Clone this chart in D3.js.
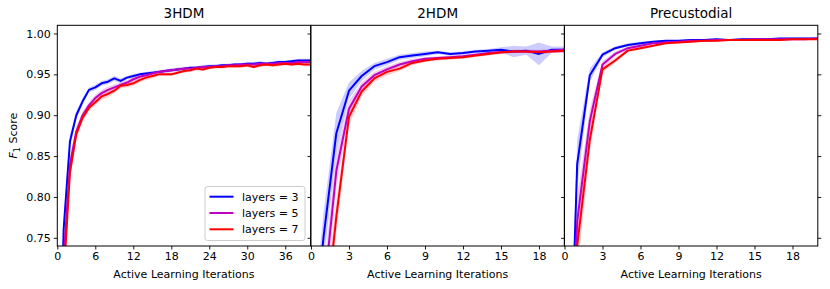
<!DOCTYPE html>
<html lang="en">
<head>
    <meta charset="UTF-8">
    <title>Active learning F1 score</title>
    <script src="https://d3js.org/d3.v7.min.js"></script>
    <style>
        body { margin: 0; background: #fff; }
        text { font-family: "DejaVu Sans", sans-serif; fill: #000; }
    </style>
</head>
<body>
    <div id="chart"></div>

    <script>
        // panel names and x ranges
        const panelNames = ['3HDM', '2HDM', 'Precustodial'];
        const panelXMax = [40, 20, 20];
        const panelXTicks = [[0, 6, 12, 18, 24, 30, 36], [0, 3, 6, 9, 12, 15, 18], [0, 3, 6, 9, 12, 15, 18]];
        const yTicks = [0.75, 0.80, 0.85, 0.90, 0.95, 1.00];
        const seriesLabels = ['layers = 3', 'layers = 5', 'layers = 7'];
        const seriesColors = ['#0000ff', '#bf00bf', '#ff0000'];

        // 3HDM, x = 0..40
        const hdm3Layers3 = [0.45, 0.76, 0.868, 0.90, 0.917, 0.931, 0.934, 0.939, 0.941, 0.945, 0.942, 0.946, 0.948, 0.950, 0.951, 0.952, 0.953, 0.954, 0.955, 0.956, 0.957, 0.958, 0.958, 0.959, 0.960, 0.960, 0.961, 0.961, 0.962, 0.962, 0.963, 0.963, 0.964, 0.963, 0.964, 0.965, 0.965, 0.966, 0.967, 0.967, 0.967];
        const hdm3Layers5 = [0.40, 0.725, 0.84, 0.88, 0.90, 0.912, 0.921, 0.927, 0.931, 0.934, 0.937, 0.940, 0.944, 0.947, 0.949, 0.951, 0.953, 0.954, 0.955, 0.956, 0.957, 0.957, 0.958, 0.959, 0.959, 0.960, 0.960, 0.961, 0.961, 0.962, 0.962, 0.962, 0.963, 0.963, 0.963, 0.964, 0.964, 0.964, 0.965, 0.965, 0.965];
        const hdm3Layers7 = [0.38, 0.70, 0.83, 0.877, 0.897, 0.909, 0.916, 0.923, 0.926, 0.930, 0.936, 0.937, 0.939, 0.943, 0.946, 0.948, 0.950, 0.950, 0.950, 0.952, 0.954, 0.955, 0.957, 0.956, 0.958, 0.959, 0.959, 0.960, 0.960, 0.960, 0.961, 0.959, 0.961, 0.962, 0.961, 0.962, 0.963, 0.962, 0.963, 0.962, 0.962];
        const hdm3Std3 = [0.02, 0.015, 0.008, 0.005, 0.004, 0.003, 0.003, 0.003, 0.003, 0.003, 0.003, 0.002, 0.002, 0.002, 0.002, 0.002, 0.002, 0.002, 0.002, 0.002, 0.002, 0.002, 0.002, 0.002, 0.002, 0.002, 0.002, 0.002, 0.002, 0.002, 0.002, 0.002, 0.002, 0.002, 0.002, 0.002, 0.002, 0.002, 0.002, 0.002, 0.002];
        const hdm3Std5 = [0.02, 0.015, 0.01, 0.006, 0.005, 0.004, 0.004, 0.004, 0.004, 0.004, 0.003, 0.003, 0.003, 0.003, 0.003, 0.002, 0.002, 0.002, 0.002, 0.002, 0.002, 0.002, 0.002, 0.002, 0.002, 0.002, 0.002, 0.002, 0.002, 0.002, 0.002, 0.002, 0.002, 0.002, 0.002, 0.002, 0.002, 0.002, 0.002, 0.002, 0.002];
        const hdm3Std7 = [0.02, 0.015, 0.01, 0.006, 0.005, 0.004, 0.004, 0.004, 0.004, 0.003, 0.003, 0.003, 0.003, 0.003, 0.003, 0.003, 0.002, 0.002, 0.002, 0.002, 0.002, 0.002, 0.002, 0.002, 0.002, 0.002, 0.002, 0.002, 0.002, 0.002, 0.002, 0.002, 0.002, 0.002, 0.002, 0.002, 0.002, 0.002, 0.002, 0.002, 0.002];

        // 2HDM, x = 0..20
        const hdm2Layers3 = [0.60, 0.752, 0.878, 0.930, 0.948, 0.960, 0.965, 0.971, 0.973, 0.975, 0.977, 0.975, 0.976, 0.978, 0.979, 0.980, 0.978, 0.979, 0.975, 0.980, 0.980];
        const hdm2Layers5 = [0.55, 0.68, 0.832, 0.908, 0.935, 0.949, 0.956, 0.962, 0.966, 0.969, 0.970, 0.971, 0.972, 0.974, 0.976, 0.977, 0.978, 0.978, 0.978, 0.979, 0.980];
        const hdm2Layers7 = [0.50, 0.63, 0.776, 0.898, 0.929, 0.945, 0.953, 0.957, 0.964, 0.967, 0.969, 0.970, 0.971, 0.973, 0.975, 0.977, 0.978, 0.978, 0.977, 0.978, 0.979];
        const hdm2Std3 = [0.03, 0.03, 0.025, 0.01, 0.006, 0.004, 0.004, 0.003, 0.003, 0.003, 0.002, 0.002, 0.002, 0.002, 0.002, 0.003, 0.007, 0.005, 0.014, 0.004, 0.004];
        const hdm2Std5 = [0.03, 0.03, 0.02, 0.01, 0.005, 0.004, 0.004, 0.003, 0.003, 0.002, 0.002, 0.002, 0.002, 0.002, 0.002, 0.002, 0.002, 0.002, 0.002, 0.002, 0.002];
        const hdm2Std7 = [0.03, 0.03, 0.02, 0.01, 0.006, 0.004, 0.004, 0.003, 0.003, 0.002, 0.002, 0.002, 0.002, 0.002, 0.002, 0.002, 0.002, 0.002, 0.002, 0.002, 0.002];

        // Precustodial, x = 0..20
        const precLayers3 = [0.34, 0.84, 0.949, 0.974, 0.982, 0.986, 0.988, 0.990, 0.991, 0.991, 0.992, 0.992, 0.993, 0.992, 0.993, 0.993, 0.993, 0.994, 0.994, 0.994, 0.994];
        const precLayers5 = [0.35, 0.77, 0.893, 0.962, 0.975, 0.982, 0.985, 0.988, 0.989, 0.990, 0.991, 0.991, 0.992, 0.992, 0.992, 0.993, 0.993, 0.993, 0.993, 0.993, 0.994];
        const precLayers7 = [0.35, 0.74, 0.87, 0.956, 0.967, 0.979, 0.982, 0.985, 0.988, 0.989, 0.990, 0.991, 0.991, 0.992, 0.992, 0.992, 0.992, 0.992, 0.993, 0.993, 0.993];
        const precStd3 = [0.05, 0.03, 0.008, 0.003, 0.002, 0.002, 0.002, 0.001, 0.001, 0.001, 0.001, 0.001, 0.001, 0.001, 0.001, 0.001, 0.001, 0.001, 0.001, 0.001, 0.001];
        const precStd5 = [0.05, 0.03, 0.015, 0.004, 0.003, 0.002, 0.002, 0.001, 0.001, 0.001, 0.001, 0.001, 0.001, 0.001, 0.001, 0.001, 0.001, 0.001, 0.001, 0.001, 0.001];
        const precStd7 = [0.05, 0.03, 0.015, 0.004, 0.003, 0.002, 0.002, 0.001, 0.001, 0.001, 0.001, 0.001, 0.001, 0.001, 0.001, 0.001, 0.001, 0.001, 0.001, 0.001, 0.001];

        const panelMeans = [[hdm3Layers3, hdm3Layers5, hdm3Layers7], [hdm2Layers3, hdm2Layers5, hdm2Layers7], [precLayers3, precLayers5, precLayers7]];
        const panelStds = [[hdm3Std3, hdm3Std5, hdm3Std7], [hdm2Std3, hdm2Std5, hdm2Std7], [precStd3, precStd5, precStd7]];

        // layout
        const svgWidth = 830, svgHeight = 289;
        const panelLeft = [57.3, 311, 564.5];
        const panelWidth = 253.3;
        const plotTop = 25.3, plotBottom = 246;

        const svg = d3.select('#chart')
            .append('svg')
            .attr('width', svgWidth)
            .attr('height', svgHeight);

        const y = d3.scaleLinear().domain([0.74, 1.01]).range([plotBottom, plotTop]);

        panelNames.forEach((name, p) => {
            const x = d3.scaleLinear().domain([0, panelXMax[p]]).range([0, panelWidth]);
            const g = svg.append('g').attr('transform', `translate(${panelLeft[p]},0)`);

            // white background (covers the neighbour's right ticks)
            g.append('rect')
                .attr('x', 0).attr('y', plotTop)
                .attr('width', panelWidth).attr('height', plotBottom - plotTop)
                .attr('fill', '#fff');

            g.append('clipPath').attr('id', 'clip' + p)
                .append('rect')
                .attr('x', 0).attr('y', plotTop)
                .attr('width', panelWidth).attr('height', plotBottom - plotTop);

            const plot = g.append('g').attr('clip-path', `url(#clip${p})`);

            panelMeans[p].forEach((means, s) => {
                const rows = means.map((m, i) => ({ x: i, m: m, sd: panelStds[p][s][i] }));
                const area = d3.area()
                    .x(d => x(d.x))
                    .y0(d => y(d.m - d.sd))
                    .y1(d => y(d.m + d.sd));
                plot.append('path')
                    .datum(rows)
                    .attr('d', area)
                    .attr('fill', seriesColors[s])
                    .attr('fill-opacity', 0.2);
            });
            panelMeans[p].forEach((means, s) => {
                const line = d3.line()
                    .x((d, i) => x(i))
                    .y(d => y(d));
                plot.append('path')
                    .datum(means)
                    .attr('d', line)
                    .attr('fill', 'none')
                    .attr('stroke', seriesColors[s])
                    .attr('stroke-width', 2)
                    .attr('stroke-linejoin', 'round');
            });

            // x axis
            const xAxis = g.append('g')
                .attr('transform', `translate(0,${plotBottom})`)
                .call(d3.axisBottom(x).tickValues(panelXTicks[p]).tickFormat(d3.format('d')).tickSize(3.5).tickPadding(3));
            xAxis.select('.domain').remove();
            xAxis.selectAll('line').attr('stroke-width', 0.9);
            xAxis.selectAll('text').style('font-size', '11px').style('font-family', 'DejaVu Sans');

            // y axis
            const yAxis = g.append('g')
                .call(d3.axisLeft(y).tickValues(yTicks).tickFormat(p === 0 ? d3.format('.2f') : '').tickSize(3.5).tickPadding(3));
            yAxis.select('.domain').remove();
            yAxis.selectAll('line').attr('stroke-width', 0.9);
            yAxis.selectAll('text').style('font-size', '11px').style('font-family', 'DejaVu Sans');

            if (p === panelNames.length - 1) {
                const yRight = g.append('g')
                    .attr('transform', `translate(${panelWidth},0)`)
                    .call(d3.axisRight(y).tickValues(yTicks).tickFormat('').tickSize(3.5));
                yRight.select('.domain').remove();
                yRight.selectAll('line').attr('stroke-width', 0.9);
            }

            // frame
            g.append('rect')
                .attr('x', 0).attr('y', plotTop)
                .attr('width', panelWidth).attr('height', plotBottom - plotTop)
                .attr('fill', 'none')
                .attr('stroke', '#000')
                .attr('stroke-width', 1);

            // title
            g.append('text')
                .attr('x', panelWidth / 2).attr('y', 18.3)
                .attr('text-anchor', 'middle')
                .style('font-size', '13.5px')
                .text(name);

            // x label
            g.append('text')
                .attr('x', panelWidth / 2).attr('y', 278)
                .attr('text-anchor', 'middle')
                .style('font-size', '11px')
                .text('Active Learning Iterations');
        });

        // y label
        const yLabel = svg.append('text')
            .attr('transform', `translate(17,${(plotTop + plotBottom) / 2}) rotate(-90)`)
            .attr('text-anchor', 'middle')
            .style('font-size', '11px');
        yLabel.append('tspan').style('font-style', 'italic').text('F');
        yLabel.append('tspan').attr('dy', 3).style('font-size', '8px').text('1');
        yLabel.append('tspan').attr('dy', -3).text(' Score');

        // legend in first panel
        const legend = svg.append('g').attr('transform', 'translate(205,186.5)');
        legend.append('rect')
            .attr('width', 100).attr('height', 54)
            .attr('rx', 2.5)
            .attr('fill', '#fff').attr('fill-opacity', 0.8)
            .attr('stroke', '#cccccc').attr('stroke-width', 1);
        seriesLabels.forEach((label, i) => {
            const ly = 10.2 + i * 16.3;
            legend.append('line')
                .attr('x1', 4.5).attr('x2', 28.5)
                .attr('y1', ly).attr('y2', ly)
                .attr('stroke', seriesColors[i]).attr('stroke-width', 2);
            legend.append('text')
                .attr('x', 37).attr('y', ly + 4)
                .style('font-size', '11px')
                .text(label);
        });
    </script>
</body>
</html>
